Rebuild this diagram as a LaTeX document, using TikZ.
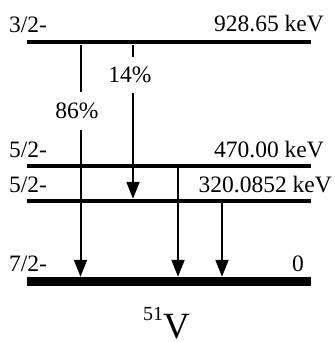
\documentclass[tikz,border=0pt]{standalone}
\usepackage{fontspec}
\setmainfont{Liberation Serif}
\usetikzlibrary{arrows.meta}
\begin{document}
\begin{tikzpicture}[x=1pt,y=1pt,
  lev/.style={fill=black,inner sep=0pt,minimum width=284pt,minimum height=#1},
  lab/.style={inner sep=0pt,font=\fontsize{23.5}{26}\selectfont},
  pct/.style={inner sep=0pt,font=\fontsize{23.5}{26}\selectfont},
  gam/.style={line width=2pt},
  gama/.style={line width=2pt,-{Triangle[width=13pt,length=17pt]}}]
\useasboundingbox (0,0) rectangle (334,-342);
% levels
\node[lev=4pt] (L928) at (169,-42.5) {};
\node[lev=4pt] (L470) at (169,-166) {};
\node[lev=4pt] (L320) at (169,-201) {};
\node[lev=9pt] (L0)   at (169,-281.5) {};
% level labels
\node[lab,anchor=base west] (s928) at (9,-33) {3/2-};
\node[lab,anchor=base east] (e928) at (324,-32) {928.65 keV};
\node[lab,anchor=base west] (s470) at (9,-157) {5/2-};
\node[lab,anchor=base east] (e470) at (324,-157) {470.00 keV};
\node[lab,anchor=base west] (s320) at (9,-192) {5/2-};
\node[lab,anchor=base east] (e320) at (332,-192) {320.0852 keV};
\node[lab,anchor=base west] (s0) at (9,-271) {7/2-};
\node[lab,anchor=base east] (e0) at (304,-271) {0};
% branching labels
\node[pct,minimum height=38pt] (p86) at (77,-111) {86\%};
\node[pct,minimum height=36pt] (p14) at (130,-75) {14\%};
% transition anchor coordinates
\coordinate (x1) at (80.5,0);
\coordinate (x2) at (133,0);
\coordinate (x3) at (178,0);
\coordinate (x4) at (222,0);
% gammas
\draw[gam]  (L928.south -| x1) -- (p86.north -| x1);
\draw[gama] (p86.south -| x1) -- (L0.north -| x1);
\draw[gam]  (L928.south -| x2) -- (p14.north -| x2);
\draw[gama] (p14.south -| x2) -- (L320.north -| x2);
\draw[gama] (L470.south -| x3) -- (L0.north -| x3);
\draw[gama] (L320.south -| x4) -- (L0.north -| x4);
% nucleus
\node[inner sep=0pt,anchor=base west] (nuc) at (143,-338)
  {\fontsize{20}{22}\selectfont\raisebox{18pt}{51}\fontsize{37}{40}\selectfont V};
\end{tikzpicture}
\end{document}
